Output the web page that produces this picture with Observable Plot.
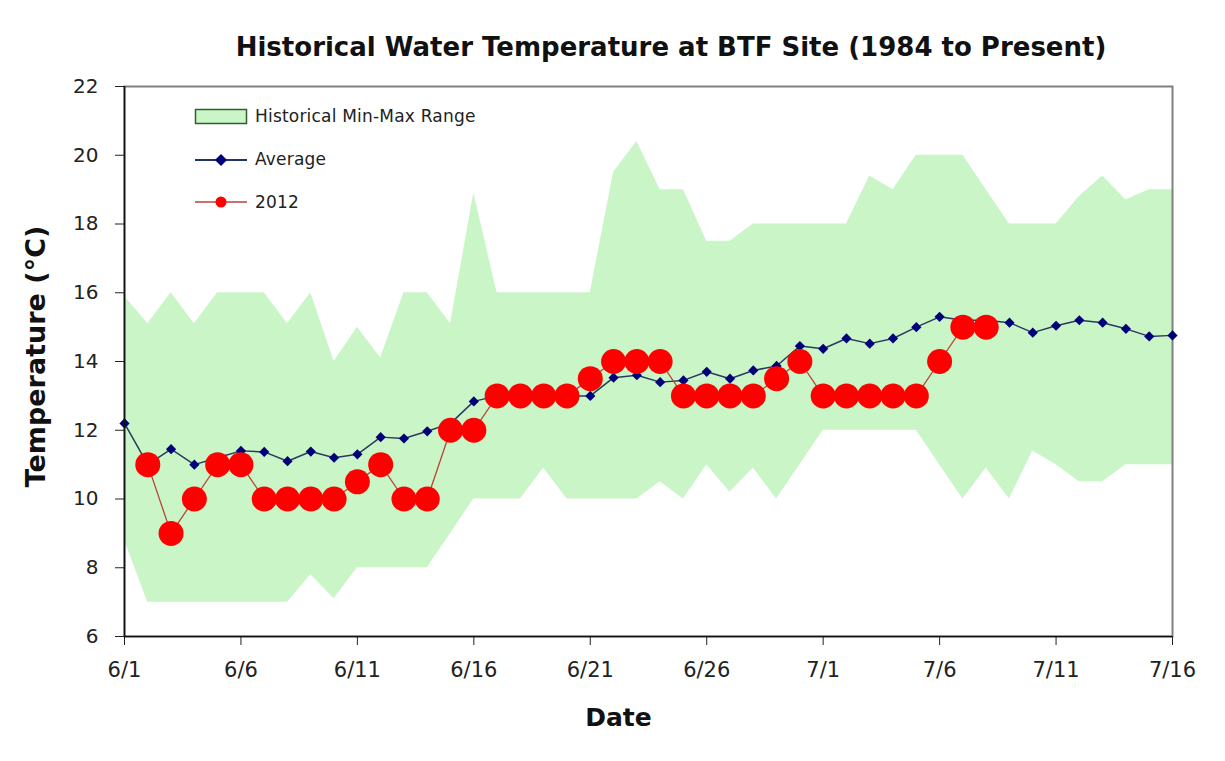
<!DOCTYPE html>
<html>
<head>
<meta charset="utf-8">
<script src="https://cdn.jsdelivr.net/npm/d3@7"></script>
<script src="https://cdn.jsdelivr.net/npm/@observablehq/plot@0.6"></script>
<style>
  html, body { margin: 0; padding: 0; background: #fff; }
  #wrap { position: relative; width: 1225px; height: 761px; overflow: hidden; font-family: "DejaVu Sans", sans-serif; }
  #title { height: 70px; position: relative; }
  #title span { position: absolute; left: 0; top: 32px; width: 1225px; box-sizing: border-box; padding-left: 117px; text-align: center; font-weight: bold; font-size: 26px; color: #111; white-space: nowrap; }
  #legend { position: absolute; left: 0; top: 0; pointer-events: none; }
</style>
</head>
<body>
<div id="wrap">
  <div id="title"><span>Historical Water Temperature at BTF Site (1984 to Present)</span></div>
  <div id="chart"></div>
  <svg id="legend" width="1225" height="761" font-family="DejaVu Sans, sans-serif" font-size="17" fill="#222">
    <rect x="195.5" y="109.5" width="51" height="14" fill="#c9f5c7" stroke="#2f5f2f" stroke-width="1.5"></rect>
    <text x="255" y="116" dominant-baseline="central" letter-spacing="0.2">Historical Min-Max Range</text>
    <line x1="195" x2="247" y1="160" y2="160" stroke="#22336a" stroke-width="2"></line>
    <path d="M221,154 L227,160 L221,166 L215,160 Z" fill="#00007a"></path>
    <text x="255" y="159" dominant-baseline="central" letter-spacing="0.2">Average</text>
    <line x1="195" x2="247" y1="202" y2="202" stroke="#b5453a" stroke-width="1.5"></line>
    <circle cx="221" cy="202" r="5.5" fill="#ff0000"></circle>
    <text x="255" y="202" dominant-baseline="central" letter-spacing="0.2">2012</text>
  </svg>
</div>
<script>
// ---- Data ----
const days = ["6/1","6/2","6/3","6/4","6/5","6/6","6/7","6/8","6/9","6/10",
  "6/11","6/12","6/13","6/14","6/15","6/16","6/17","6/18","6/19","6/20",
  "6/21","6/22","6/23","6/24","6/25","6/26","6/27","6/28","6/29","6/30",
  "7/1","7/2","7/3","7/4","7/5","7/6","7/7","7/8","7/9","7/10",
  "7/11","7/12","7/13","7/14","7/15","7/16"];

const histMax = [15.9,15.1,16,15.1,16,16,16,15.1,16,14,
  15,14.1,16,16,15.1,18.9,16,16,16,16,
  16,19.5,20.4,19,19,17.5,17.5,18,18,18,
  18,18,19.4,19,20,20,20,19,18,18,
  18,18.8,19.4,18.7,19,19];

const histMin = [8.8,7,7,7,7,7,7,7,7.8,7.1,
  8,8,8,8,9,10,10,10,10.9,10,
  10,10,10,10.5,10,11,10.2,10.9,10,11,
  12,12,12,12,12,11,10,10.9,10,11.4,
  11,10.5,10.5,11,11,11];

const average = [12.2,11.0,11.45,11.0,11.2,11.4,11.37,11.1,11.38,11.2,
  11.3,11.8,11.76,11.97,12.2,12.84,13.0,13.0,13.05,13.0,
  13.0,13.53,13.6,13.4,13.45,13.7,13.5,13.74,13.87,14.45,
  14.37,14.67,14.52,14.67,15.0,15.3,15.2,15.2,15.13,14.84,
  15.04,15.2,15.13,14.95,14.73,14.76];

const temp2012 = [null,11,9,10,11,11,10,10,10,10,
  10.5,11,10,10,12,12,13,13,13,13,
  13.5,14,14,14,13,13,13,13,13.5,14,
  13,13,13,13,13,14,15,15,null,null,
  null,null,null,null,null,null];

const xTickLabels = ["6/1","6/6","6/11","6/16","6/21","6/26","7/1","7/6","7/11","7/16"];
const yTicks = [6,8,10,12,14,16,18,20,22];

// ---- Build table ----
const year = 2012;
const toDate = s => { const [m, d] = s.split("/").map(Number); return new Date(Date.UTC(year, m - 1, d)); };
const rows = days.map((s, i) => ({date: toDate(s), min: histMin[i], max: histMax[i], avg: average[i], t2012: temp2012[i]}));
const rows2012 = rows.filter(r => r.t2012 != null);
const xTicks = xTickLabels.map(toDate);
const fmt = d => `${d.getUTCMonth() + 1}/${d.getUTCDate()}`;

const chart = Plot.plot({
  width: 1225,
  height: 691,
  marginTop: 16,
  marginBottom: 125,
  marginLeft: 124,
  marginRight: 53,
  style: {fontFamily: "DejaVu Sans, sans-serif", color: "#222", background: "#fff", overflow: "visible"},
  x: {type: "utc", domain: [rows[0].date, rows[rows.length - 1].date]},
  y: {domain: [6, 22]},
  marks: [
    Plot.areaY(rows, {x: "date", y1: "min", y2: "max", fill: "#c9f5c7", curve: "linear"}),
    Plot.frame({stroke: "#808080", strokeWidth: 2}),
    Plot.lineY(rows, {x: "date", y: "avg", stroke: "#2b3a5e", strokeWidth: 1.5}),
    Plot.dot(rows, {x: "date", y: "avg", symbol: "diamond2", r: 4.6, fill: "#00007a", stroke: "none"}),
    Plot.lineY(rows2012, {x: "date", y: "t2012", stroke: "#b5453a", strokeWidth: 1.3}),
    Plot.dot(rows2012, {x: "date", y: "t2012", r: 12.5, fill: "#ff0000", stroke: "none"}),
    Plot.axisX({ticks: xTicks, tickFormat: fmt, tickSize: 9, tickPadding: 17, fontSize: 21, label: null, stroke: "#222"}),
    Plot.axisY({ticks: yTicks, tickSize: 9, tickPadding: 17, fontSize: 20, label: null, stroke: "#222"}),
    Plot.ruleX([rows[0].date], {stroke: "#111", strokeWidth: 1.6}),
    Plot.ruleY([6], {stroke: "#111", strokeWidth: 1.6}),
    Plot.text(["Date"], {frameAnchor: "bottom", dy: 81, dx: -30, textAnchor: "middle", lineAnchor: "middle", fontSize: 25, fontWeight: "bold", fill: "#111"}),
    Plot.text(["Temperature (°C)"], {frameAnchor: "left", rotate: -90, dx: -88, dy: -5, textAnchor: "middle", lineAnchor: "middle", fontSize: 27, fontWeight: "bold", fill: "#111", style: "letter-spacing:1.6px"})
  ]
});
document.getElementById("chart").appendChild(chart);
</script>
</body>
</html>
